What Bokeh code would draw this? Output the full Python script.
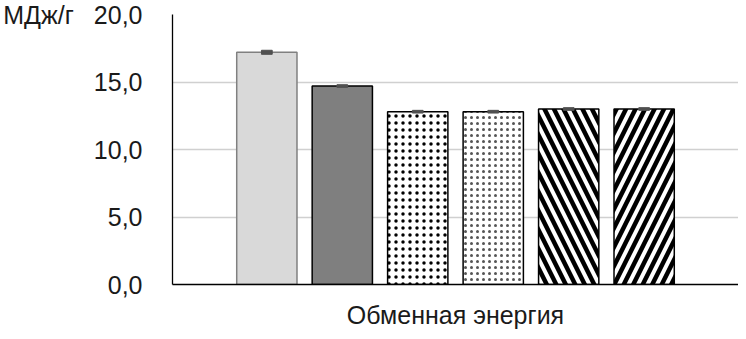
from bokeh.plotting import figure
from bokeh.models import FactorRange, CustomJSTickFormatter, ColumnDataSource, FixedTicker
from bokeh.transform import dodge
from bokeh.embed import file_html
from bokeh.resources import INLINE

category = ["Обменная энергия"]
series_values = [17.2, 14.7, 12.8, 12.8, 13.0, 13.0]
series_errors = [0.15, 0.1, 0.1, 0.1, 0.1, 0.1]
y_ticks = [0, 5, 10, 15, 20]
y_unit = "МДж/г"

offsets = [-0.3333, -0.2, -0.0667, 0.0667, 0.2, 0.3333]
styles = [
    dict(fill_color="#d9d9d9", line_color="#808080"),
    dict(fill_color="#7f7f7f", line_color="#000000"),
    dict(fill_color="white", line_color="#000000", hatch_pattern="dot", hatch_scale=7, hatch_color="black", hatch_weight=2.6),
    dict(fill_color="white", line_color="#000000", hatch_pattern="dot", hatch_scale=6, hatch_color="#555555", hatch_weight=0.5),
    dict(fill_color="white", line_color="#000000", hatch_pattern="left_diagonal_line", hatch_scale=19, hatch_color="black", hatch_weight=4.5),
    dict(fill_color="white", line_color="#000000", hatch_pattern="right_diagonal_line", hatch_scale=19, hatch_color="black", hatch_weight=4.5),
]

p = figure(x_range=FactorRange(factors=category, range_padding=0), y_range=(0, 20),
           width=738, height=331, output_backend="svg", toolbar_location=None,
           min_border_left=172, min_border_top=14, min_border_right=0, min_border_bottom=0)
p.outline_line_color = None
p.background_fill_color = "white"

for i, (v, e, off, st) in enumerate(zip(series_values, series_errors, offsets, styles)):
    src = ColumnDataSource(dict(cat=category, top=[v], lo=[v - e], hi=[v + e]))
    p.vbar(x=dodge("cat", off, range=p.x_range), top="top", bottom=0, width=0.1065,
           source=src, line_width=1.5, **st)
    p.vbar(x=dodge("cat", off, range=p.x_range), top="hi", bottom="lo", width=0.019,
           source=src, fill_color="#505050", line_color="#505050", line_width=1)

p.xgrid.grid_line_color = None
p.ygrid.grid_line_color = "#d0d0d0"
p.ygrid.grid_line_width = 1.3

yax = p.yaxis[0]
yax.ticker = FixedTicker(ticks=y_ticks)
yax.formatter = CustomJSTickFormatter(code="return tick.toFixed(1).replace('.', ',');")
yax.major_tick_line_color = None
yax.minor_tick_line_color = None
yax.axis_line_color = "black"
yax.axis_line_width = 1.3
yax.major_label_text_font = "Liberation Sans"
yax.major_label_text_font_size = "25px"
yax.major_label_text_color = "#1a1a1a"
yax.major_label_standoff = 24
yax.axis_label = y_unit
yax.axis_label_orientation = "horizontal"
yax.axis_label_text_font = "Liberation Sans"
yax.axis_label_text_font_size = "25px"
yax.axis_label_text_font_style = "normal"
yax.axis_label_text_color = "#1a1a1a"
yax.axis_label_standoff = 17
try:
    yax.axis_label_align = "end"
except Exception:
    pass

xax = p.xaxis[0]
xax.major_tick_line_color = None
xax.minor_tick_line_color = None
xax.axis_line_color = "black"
xax.axis_line_width = 1.3
xax.major_label_text_font = "Liberation Sans"
xax.major_label_text_font_size = "25px"
xax.major_label_text_color = "#1a1a1a"
xax.major_label_standoff = 10

open("out.html", "w").write(file_html(p, INLINE))
